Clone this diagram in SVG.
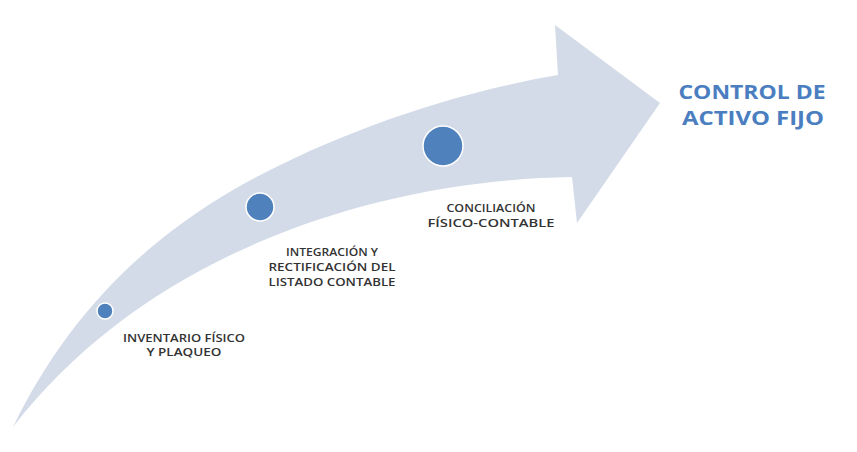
<svg xmlns="http://www.w3.org/2000/svg" width="857" height="452" viewBox="0 0 857 452">
<style>
.lbl{font-family:"Open Sans","Liberation Sans",sans-serif;font-weight:600;font-size:11.5px;fill:#333333;text-anchor:middle}
.title{font-family:"Open Sans","Liberation Sans",sans-serif;font-weight:700;font-size:20px;fill:#4A7EC0;text-anchor:middle}
.dot{fill:#4F81BD;stroke:#ffffff;stroke-width:1.5}
</style>
<rect width="857" height="452" fill="#ffffff"/>
<g id="connectors">
<path id="arrow" d="M13,427 C60,330 130,250 233,190 C320,140 440,95 558,75 L555,25 L660,103 L577,223 L572,177 C380,180 150,250 13,427 Z" fill="#D3DBE8"/>
</g>
<g id="step1">
<circle class="dot" cx="105" cy="311" r="8"/>
<text class="lbl" x="184" y="342" textLength="122" lengthAdjust="spacingAndGlyphs">INVENTARIO FÍSICO</text>
<text class="lbl" x="184" y="356" textLength="75" lengthAdjust="spacingAndGlyphs">Y PLAQUEO</text>
</g>
<g id="step2">
<circle class="dot" cx="260" cy="207" r="14"/>
<text class="lbl" x="332" y="256" textLength="92" lengthAdjust="spacingAndGlyphs">INTEGRACIÓN Y</text>
<text class="lbl" x="332" y="271" textLength="127" lengthAdjust="spacingAndGlyphs">RECTIFICACIÓN DEL</text>
<text class="lbl" x="332" y="286" textLength="127" lengthAdjust="spacingAndGlyphs">LISTADO CONTABLE</text>
</g>
<g id="step3">
<circle class="dot" cx="443" cy="146" r="20"/>
<text class="lbl" x="491" y="212" textLength="89" lengthAdjust="spacingAndGlyphs">CONCILIACIÓN</text>
<text class="lbl" x="491" y="227" textLength="127" lengthAdjust="spacingAndGlyphs">FÍSICO-CONTABLE</text>
</g>
<g id="goal">
<text class="title" x="752" y="99" textLength="147" lengthAdjust="spacingAndGlyphs">CONTROL DE</text>
<text class="title" x="753" y="125" textLength="142" lengthAdjust="spacingAndGlyphs">ACTIVO FIJO</text>
</g>
</svg>
